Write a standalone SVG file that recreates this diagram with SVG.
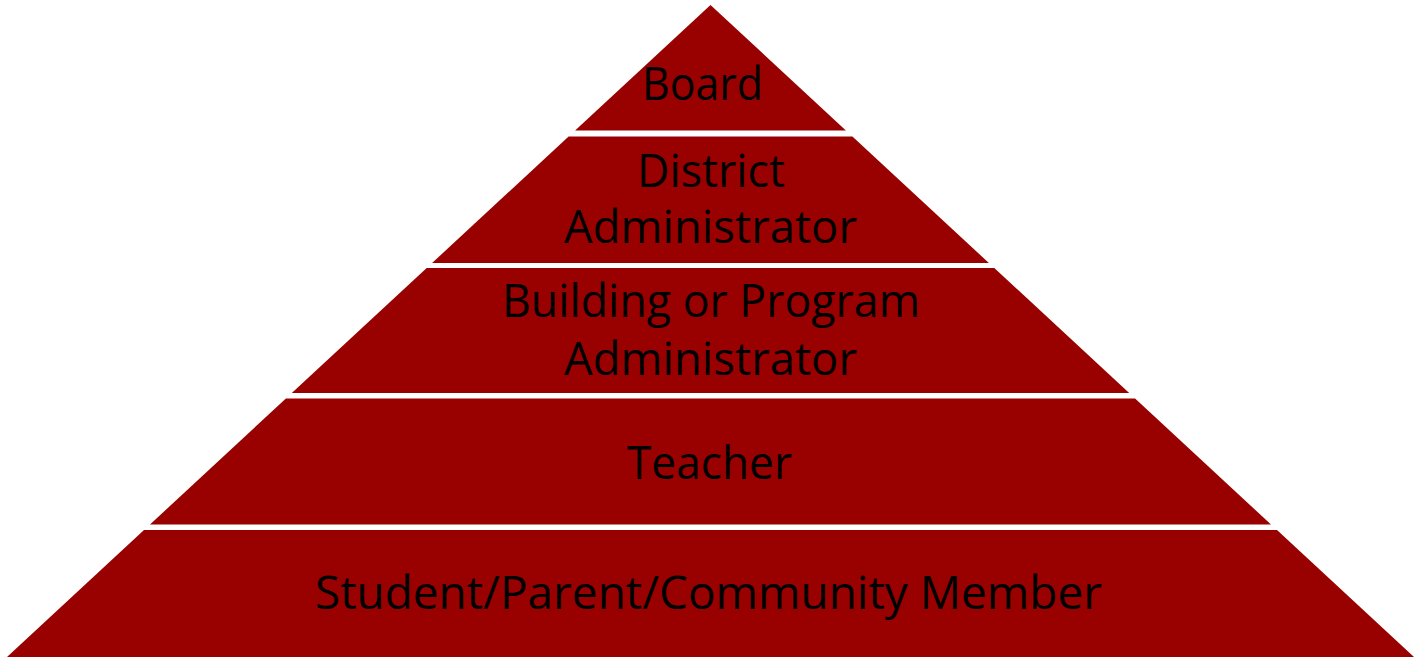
<svg xmlns="http://www.w3.org/2000/svg" width="1420" height="660" viewBox="0 0 1420 660">
  <style>
    .layer { fill: #990000; stroke: none; }
    .lbl { font-family: "Open Sans", "Noto Sans", "Liberation Sans", sans-serif; font-size: 45px; fill: #000000; }
  </style>
  <rect x="0" y="0" width="1420" height="660" fill="#ffffff"/>
  <g id="board">
    <polygon class="layer" points="710.5,5 845.9,130.5 575.1,130.5"/>
    <text class="lbl" x="642" y="99.5" textLength="121" lengthAdjust="spacingAndGlyphs">Board</text>
  </g>
  <g id="district-administrator">
    <polygon class="layer" points="568.6,136.5 852.4,136.5 988.9,263 432.1,263"/>
    <text class="lbl" x="637" y="186.5" textLength="148" lengthAdjust="spacingAndGlyphs">District</text>
    <text class="lbl" x="564" y="242.5" textLength="293" lengthAdjust="spacingAndGlyphs">Administrator</text>
  </g>
  <g id="building-program-administrator">
    <polygon class="layer" points="426.7,268 994.3,268 1129.2,393 291.8,393"/>
    <text class="lbl" x="502" y="316.5" textLength="418" lengthAdjust="spacingAndGlyphs">Building or Program</text>
    <text class="lbl" x="564" y="375" textLength="293" lengthAdjust="spacingAndGlyphs">Administrator</text>
  </g>
  <g id="teacher">
    <polygon class="layer" points="285.9,398.5 1135.1,398.5 1271,524.5 150,524.5"/>
    <text class="lbl" x="627" y="479" textLength="165" lengthAdjust="spacingAndGlyphs">Teacher</text>
  </g>
  <g id="student-parent-community">
    <polygon class="layer" points="144,530 1277,530 1414,657 7,657"/>
    <text class="lbl" x="315" y="609" textLength="787" lengthAdjust="spacingAndGlyphs">Student/Parent/Community Member</text>
  </g>
  <g id="connectors"></g>
</svg>
